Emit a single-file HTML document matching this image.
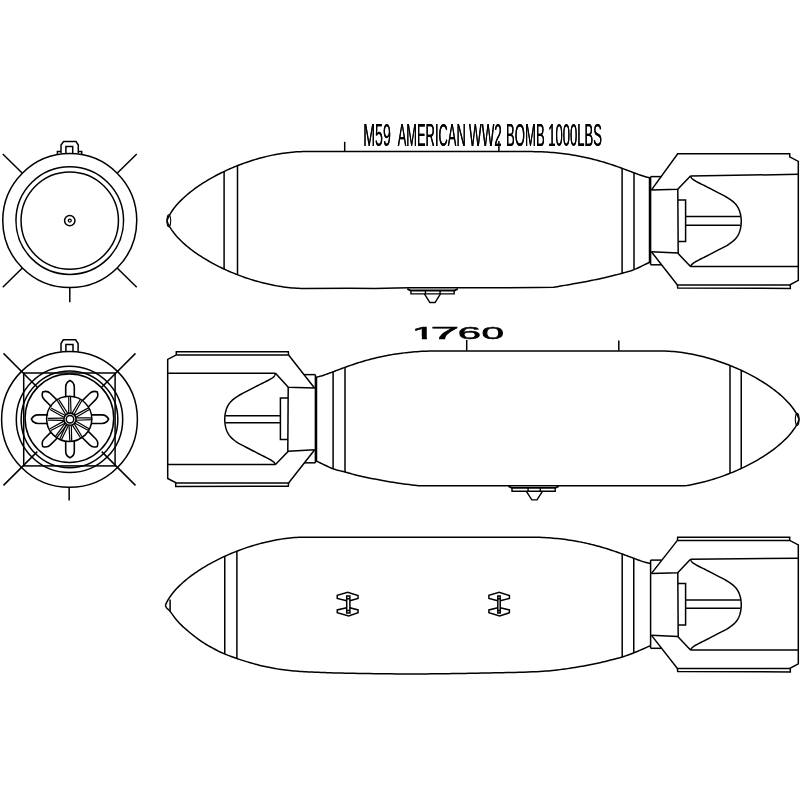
<!DOCTYPE html>
<html><head><meta charset="utf-8"><title>M59 bomb</title>
<style>html,body{margin:0;padding:0;background:#fff}svg{display:block}</style></head>
<body>
<svg width="800" height="800" viewBox="0 0 800 800">
<defs><filter id="hx" x="-5%" y="-30%" width="110%" height="160%" color-interpolation-filters="sRGB"><feOffset in="SourceGraphic" dx="0.35" result="a"/><feOffset in="SourceGraphic" dx="-0.35" result="b"/><feMerge><feMergeNode in="a"/><feMergeNode in="b"/></feMerge></filter><filter id="gx" x="-5%" y="-30%" width="110%" height="160%" color-interpolation-filters="sRGB"><feOffset dx="0"/></filter></defs>
<rect width="800" height="800" fill="#fff"/>
<g fill="none" stroke="#000" stroke-width="1.50" stroke-linejoin="miter" stroke-linecap="butt">
<path d="M166.90,220.80 L167.38,219.55 L167.91,218.31 L168.49,217.06 L169.12,215.81 L169.81,214.56 L170.54,213.30 L171.33,212.05 L172.16,210.80 L173.05,209.55 L173.97,208.30 L174.95,207.05 L175.97,205.81 L177.03,204.57 L178.14,203.33 L179.29,202.09 L180.48,200.86 L181.72,199.64 L182.99,198.42 L184.30,197.20 L185.65,195.99 L187.04,194.79 L188.47,193.59 L189.93,192.40 L191.42,191.22 L192.95,190.05 L194.52,188.88 L196.11,187.73 L197.74,186.58 L199.40,185.45 L201.09,184.32 L202.81,183.21 L204.55,182.11 L206.33,181.02 L208.13,179.94 L209.95,178.88 L211.80,177.82 L213.68,176.79 L215.58,175.76 L217.50,174.75 L219.44,173.76 L221.40,172.78 L223.38,171.82 L225.38,170.87 L227.40,169.94 L229.44,169.03 L231.49,168.14 L233.56,167.26 L235.64,166.40 L237.74,165.57 L239.85,164.75 L241.97,163.95 L244.11,163.17 L246.25,162.42 L248.40,161.68 L250.57,160.97 L252.74,160.28 L254.91,159.61 L257.10,158.96 L259.29,158.34 L261.48,157.75 L263.68,157.17 L265.88,156.63 L268.08,156.11 L270.28,155.61 L272.49,155.14 L274.69,154.70 L276.89,154.29 L279.09,153.90 L281.29,153.54 L283.48,153.21 L285.67,152.91 L287.85,152.64 L290.02,152.40 L292.19,152.19 L294.35,152.01 L296.50,151.87 L298.64,151.75 L300.77,151.67 L302.89,151.62 L305.00,151.60 L530.00,151.60 L532.46,151.61 L534.89,151.64 L537.30,151.69 L539.68,151.77 L542.03,151.86 L544.35,151.97 L546.64,152.10 L548.91,152.25 L551.15,152.41 L553.36,152.59 L555.55,152.79 L557.71,153.00 L559.84,153.23 L561.95,153.48 L564.03,153.74 L566.09,154.01 L568.11,154.30 L570.12,154.60 L572.09,154.91 L574.04,155.23 L575.97,155.57 L577.87,155.91 L579.74,156.27 L581.59,156.64 L583.41,157.01 L585.21,157.40 L586.99,157.79 L588.74,158.19 L590.46,158.60 L592.16,159.02 L593.84,159.44 L595.49,159.87 L597.12,160.30 L598.72,160.74 L600.30,161.18 L601.85,161.63 L603.39,162.08 L604.90,162.53 L606.38,162.99 L607.84,163.44 L609.28,163.90 L610.70,164.36 L612.09,164.82 L613.46,165.28 L614.81,165.74 L616.14,166.20 L617.44,166.65 L618.72,167.11 L619.98,167.56 L621.22,168.01 L622.43,168.45 L623.63,168.89 L624.80,169.33 L625.95,169.76 L627.08,170.19 L628.19,170.60 L629.27,171.02 L630.34,171.42 L631.39,171.82 L632.41,172.21 L633.41,172.59 L634.40,172.96 L635.36,173.32 L636.30,173.67 L637.23,174.01 L638.13,174.34 L639.01,174.66 L639.88,174.97 L640.72,175.26 L641.55,175.54 L642.35,175.81 L643.14,176.06 L643.90,176.30 L644.65,176.52 L645.38,176.72 L646.09,176.91 L646.78,177.09 L647.46,177.24 L648.11,177.38 L648.75,177.50 L650.60,178.10"/>
<path d="M166.90,220.80 L167.38,222.02 L167.91,223.24 L168.49,224.46 L169.12,225.68 L169.81,226.91 L170.54,228.13 L171.33,229.36 L172.16,230.58 L173.05,231.81 L173.97,233.03 L174.95,234.25 L175.97,235.47 L177.03,236.68 L178.14,237.89 L179.29,239.10 L180.48,240.30 L181.72,241.50 L182.99,242.70 L184.30,243.89 L185.65,245.07 L187.04,246.25 L188.47,247.42 L189.93,248.58 L191.42,249.74 L192.95,250.88 L194.52,252.02 L196.11,253.15 L197.74,254.27 L199.40,255.38 L201.09,256.48 L202.81,257.57 L204.55,258.65 L206.33,259.72 L208.13,260.77 L209.95,261.82 L211.80,262.84 L213.68,263.86 L215.58,264.86 L217.50,265.85 L219.44,266.82 L221.40,267.78 L223.38,268.72 L225.38,269.65 L227.40,270.56 L229.44,271.45 L231.49,272.32 L233.56,273.18 L235.64,274.02 L237.74,274.84 L239.85,275.64 L241.97,276.42 L244.11,277.18 L246.25,277.92 L248.40,278.64 L250.57,279.34 L252.74,280.01 L254.91,280.66 L257.10,281.30 L259.29,281.90 L261.48,282.49 L263.68,283.05 L265.88,283.58 L268.08,284.09 L270.28,284.58 L272.49,285.03 L274.69,285.47 L276.89,285.87 L279.09,286.25 L281.29,286.60 L283.48,286.92 L285.67,287.22 L287.85,287.48 L290.02,287.72 L292.19,287.92 L294.35,288.10 L296.50,288.24 L298.64,288.35 L300.77,288.43 L302.89,288.48 L305.00,288.50 L350.00,288.35 L375.00,288.40 L396.00,288.10 L410.00,287.85 L500.00,287.70 L536.00,287.50 L553.75,287.30 L555.21,287.04 L557.15,286.70 L559.46,286.30 L562.03,285.85 L564.74,285.38 L567.46,284.90 L570.09,284.43 L572.50,284.00 L574.75,283.60 L576.96,283.21 L579.15,282.82 L581.33,282.43 L583.49,282.04 L585.65,281.64 L587.82,281.23 L590.00,280.80 L592.21,280.35 L594.44,279.89 L596.68,279.42 L598.92,278.94 L601.14,278.45 L603.31,277.96 L605.44,277.48 L607.50,277.00 L609.50,276.52 L611.46,276.05 L613.38,275.57 L615.26,275.09 L617.10,274.61 L618.88,274.14 L620.62,273.67 L622.30,273.20 L623.89,272.76 L625.37,272.36 L626.78,271.98 L628.15,271.59 L629.53,271.18 L630.93,270.73 L632.41,270.21 L634.00,269.60 L635.80,268.85 L637.82,267.95 L639.96,266.95 L642.11,265.93 L644.17,264.93 L646.03,264.02 L647.59,263.25 L648.75,262.70 L650.60,261.80"/>
<path d="M224.10,171.48 L224.10,269.05"/>
<path d="M237.50,165.66 L237.50,274.74"/>
<path d="M622.10,168.33 L622.10,273.26"/>
<path d="M634.00,172.81 L634.00,269.60"/>
<path d="M168.80,214.80 a1.9,6 0 1,0 0.01,0 Z" stroke-width="1.1"/>
<path d="M649.50,177.70 L649.50,262.40"/>
<path d="M650.60,176.60 L650.60,264.80"/>
<path d="M650.60,176.60 L661.80,176.60"/>
<path d="M650.60,264.80 L661.60,264.80"/>
<path d="M651.50,189.90 L677.70,153.70 L789.70,153.70 L789.70,156.90 L798.30,161.40 L798.30,280.40 L789.70,284.90 L677.40,284.90 L651.50,251.90"/>
<path d="M677.40,284.90 L677.70,288.10 L790.30,288.40 L790.30,284.90"/>
<path d="M690.50,175.95 L798.30,174.35"/>
<path d="M690.50,266.56 L798.30,266.56"/>
<path d="M651.30,189.90 L677.70,189.20 L690.50,175.95"/>
<path d="M651.30,251.70 L677.70,253.10 L690.50,266.56"/>
<path d="M677.80,189.20 L678.20,253.10"/>
<path d="M678.00,200.00 L685.60,200.00 L685.60,241.50 L678.10,241.50"/>
<path d="M685.60,216.40 L740.60,216.40"/>
<path d="M685.60,225.20 L740.60,225.20"/>
<path d="M690.50,175.95 L690.61,176.16 L690.73,176.43 L690.87,176.76 L691.03,177.12 L691.24,177.51 L691.50,177.91 L691.82,178.31 L692.20,178.70 L692.65,179.08 L693.14,179.46 L693.69,179.85 L694.28,180.25 L694.94,180.66 L695.65,181.08 L696.42,181.53 L697.25,182.00 L698.15,182.49 L699.12,182.99 L700.16,183.51 L701.25,184.05 L702.39,184.61 L703.57,185.18 L704.77,185.78 L706.00,186.40 L707.26,187.05 L708.58,187.72 L709.94,188.42 L711.33,189.14 L712.74,189.87 L714.16,190.61 L715.59,191.35 L717.00,192.10 L718.44,192.85 L719.93,193.61 L721.45,194.38 L722.97,195.16 L724.46,195.95 L725.89,196.73 L727.25,197.52 L728.50,198.30 L729.65,199.07 L730.74,199.84 L731.76,200.60 L732.73,201.37 L733.63,202.15 L734.47,202.94 L735.26,203.75 L736.00,204.60 L736.68,205.47 L737.29,206.35 L737.84,207.25 L738.33,208.17 L738.78,209.11 L739.19,210.08 L739.56,211.07 L739.90,212.10 L740.21,213.17 L740.48,214.28 L740.71,215.42 L740.90,216.58 L741.05,217.76 L741.16,218.95 L741.23,220.13 L741.25,221.30 L741.23,222.48 L741.16,223.68 L741.05,224.89 L740.90,226.11 L740.71,227.31 L740.48,228.48 L740.21,229.61 L739.90,230.70 L739.56,231.74 L739.19,232.74 L738.78,233.70 L738.33,234.64 L737.84,235.56 L737.29,236.45 L736.68,237.33 L736.00,238.20 L735.26,239.05 L734.47,239.86 L733.63,240.65 L732.73,241.43 L731.76,242.20 L730.74,242.96 L729.65,243.73 L728.50,244.50 L727.25,245.28 L725.89,246.07 L724.46,246.85 L722.97,247.64 L721.45,248.42 L719.93,249.19 L718.44,249.95 L717.00,250.70 L715.59,251.45 L714.16,252.19 L712.74,252.93 L711.33,253.66 L709.94,254.38 L708.58,255.08 L707.26,255.75 L706.00,256.40 L704.77,257.02 L703.57,257.62 L702.39,258.19 L701.25,258.75 L700.16,259.29 L699.12,259.81 L698.15,260.31 L697.25,260.80 L696.42,261.27 L695.65,261.72 L694.94,262.15 L694.28,262.57 L693.69,262.97 L693.14,263.36 L692.65,263.74 L692.20,264.10 L691.82,264.46 L691.50,264.83 L691.24,265.19 L691.03,265.54 L690.87,265.85 L690.73,266.14 L690.61,266.38 L690.50,266.56"/>
<path d="M344.70,141.80 L344.70,152.00"/>
<path d="M498.90,141.00 L498.90,152.00"/>
<path d="M799.10,419.40 L798.62,418.17 L798.09,416.94 L797.51,415.70 L796.88,414.46 L796.19,413.23 L795.46,411.99 L794.67,410.75 L793.84,409.52 L792.95,408.28 L792.03,407.05 L791.05,405.81 L790.03,404.58 L788.97,403.35 L787.86,402.13 L786.71,400.91 L785.52,399.69 L784.28,398.48 L783.01,397.27 L781.70,396.07 L780.35,394.88 L778.96,393.69 L777.53,392.51 L776.07,391.33 L774.58,390.16 L773.05,389.00 L771.48,387.85 L769.89,386.71 L768.26,385.58 L766.60,384.46 L764.91,383.35 L763.19,382.25 L761.45,381.16 L759.67,380.08 L757.87,379.01 L756.05,377.96 L754.20,376.92 L752.32,375.89 L750.42,374.88 L748.50,373.88 L746.56,372.90 L744.60,371.93 L742.62,370.98 L740.62,370.05 L738.60,369.13 L736.56,368.23 L734.51,367.34 L732.44,366.48 L730.36,365.63 L728.26,364.80 L726.15,364.00 L724.03,363.21 L721.89,362.44 L719.75,361.69 L717.60,360.96 L715.43,360.26 L713.26,359.58 L711.09,358.92 L708.90,358.28 L706.71,357.67 L704.52,357.08 L702.32,356.51 L700.12,355.97 L697.92,355.45 L695.72,354.97 L693.51,354.50 L691.31,354.07 L689.11,353.66 L686.91,353.27 L684.71,352.92 L682.52,352.59 L680.33,352.30 L678.15,352.03 L675.98,351.79 L673.81,351.58 L671.65,351.41 L669.50,351.26 L667.36,351.15 L665.23,351.07 L663.11,351.02 L661.00,351.00 L436.00,351.00 L433.54,351.01 L431.11,351.04 L428.70,351.09 L426.32,351.17 L423.97,351.26 L421.65,351.37 L419.36,351.50 L417.09,351.65 L414.85,351.81 L412.64,351.99 L410.45,352.19 L408.29,352.40 L406.16,352.63 L404.05,352.88 L401.97,353.14 L399.91,353.41 L397.89,353.70 L395.88,354.00 L393.91,354.31 L391.96,354.63 L390.03,354.97 L388.13,355.31 L386.26,355.67 L384.41,356.04 L382.59,356.41 L380.79,356.80 L379.01,357.19 L377.26,357.59 L375.54,358.00 L373.84,358.42 L372.16,358.84 L370.51,359.27 L368.88,359.70 L367.28,360.14 L365.70,360.58 L364.15,361.03 L362.61,361.48 L361.10,361.93 L359.62,362.39 L358.16,362.84 L356.72,363.30 L355.30,363.76 L353.91,364.22 L352.54,364.68 L351.19,365.14 L349.86,365.60 L348.56,366.05 L347.28,366.51 L346.02,366.96 L344.78,367.41 L343.57,367.85 L342.37,368.29 L341.20,368.73 L340.05,369.16 L338.92,369.59 L337.81,370.00 L336.73,370.42 L335.66,370.82 L334.61,371.22 L333.59,371.61 L332.59,371.99 L331.60,372.36 L330.64,372.72 L329.70,373.07 L328.77,373.41 L327.87,373.74 L326.99,374.06 L326.12,374.37 L325.28,374.66 L324.45,374.94 L323.65,375.21 L322.86,375.46 L322.10,375.70 L321.35,375.92 L320.62,376.12 L319.91,376.31 L319.22,376.49 L318.54,376.64 L317.89,376.78 L317.25,376.90 L315.40,377.50"/>
<path d="M799.10,419.40 L798.62,420.63 L798.09,421.86 L797.51,423.10 L796.88,424.34 L796.19,425.57 L795.46,426.81 L794.67,428.05 L793.84,429.28 L792.95,430.52 L792.03,431.75 L791.05,432.99 L790.03,434.22 L788.97,435.45 L787.86,436.67 L786.71,437.89 L785.52,439.11 L784.28,440.32 L783.01,441.53 L781.70,442.73 L780.35,443.92 L778.96,445.11 L777.53,446.29 L776.07,447.47 L774.58,448.64 L773.05,449.80 L771.48,450.95 L769.89,452.09 L768.26,453.22 L766.60,454.34 L764.91,455.45 L763.19,456.55 L761.45,457.64 L759.67,458.72 L757.87,459.79 L756.05,460.84 L754.20,461.88 L752.32,462.91 L750.42,463.92 L748.50,464.92 L746.56,465.90 L744.60,466.87 L742.62,467.82 L740.62,468.75 L738.60,469.67 L736.56,470.57 L734.51,471.46 L732.44,472.32 L730.36,473.17 L728.26,474.00 L726.15,474.80 L724.03,475.59 L721.89,476.36 L719.75,477.11 L717.60,477.84 L715.43,478.54 L713.26,479.22 L711.09,479.88 L708.90,480.52 L706.71,481.13 L704.52,481.72 L702.32,482.29 L700.12,482.83 L697.92,483.35 L695.72,483.83 L693.51,484.30 L691.31,484.73 L689.11,485.14 L686.91,485.53 L684.71,485.80 L682.52,485.80 L680.33,485.80 L678.15,485.80 L675.98,485.80 L673.81,485.80 L671.65,485.80 L669.50,485.80 L667.36,485.80 L665.23,485.80 L663.11,485.80 L661.00,485.80 L420.25,485.80 L420.25,485.80 L418.78,485.64 L416.83,485.44 L414.52,485.20 L411.94,484.92 L409.19,484.62 L406.39,484.30 L403.62,483.96 L401.00,483.60 L398.45,483.22 L395.83,482.80 L393.17,482.36 L390.48,481.89 L387.81,481.42 L385.15,480.94 L382.54,480.46 L380.00,480.00 L377.51,479.55 L375.04,479.10 L372.60,478.65 L370.19,478.19 L367.82,477.74 L365.49,477.27 L363.22,476.79 L361.00,476.30 L358.83,475.78 L356.70,475.24 L354.60,474.69 L352.56,474.12 L350.58,473.56 L348.65,473.02 L346.79,472.49 L345.00,472.00 L343.33,471.57 L341.80,471.21 L340.36,470.88 L338.97,470.55 L337.58,470.21 L336.15,469.81 L334.64,469.34 L333.00,468.75 L331.12,467.99 L329.01,467.07 L326.76,466.04 L324.50,464.97 L322.33,463.93 L320.37,462.98 L318.72,462.18 L317.50,461.60 L315.40,460.60"/>
<path d="M741.25,370.34 L741.25,468.46"/>
<path d="M730.00,365.49 L730.00,473.31"/>
<path d="M345.00,367.33 L345.00,472.00"/>
<path d="M333.10,371.79 L333.10,468.79"/>
<path d="M797.20,413.40 a1.9,6 0 1,0 0.01,0 Z" stroke-width="1.1"/>
<path d="M316.50,377.10 L316.50,461.80"/>
<path d="M315.40,374.63 L315.40,462.83"/>
<path d="M315.40,374.63 L304.20,374.63"/>
<path d="M315.40,462.83 L304.40,462.83"/>
<path d="M314.50,387.93 L288.60,354.93 L176.30,354.93 L167.70,359.43 L167.70,478.43 L176.30,482.93 L288.60,482.93 L314.50,449.93"/>
<path d="M288.60,354.93 L288.30,351.73 L176.30,351.73 L176.30,354.93"/>
<path d="M288.60,482.93 L288.30,486.13 L175.70,486.43 L175.70,482.93"/>
<path d="M275.50,373.30 L167.70,373.30"/>
<path d="M275.50,464.55 L167.70,464.55"/>
<path d="M314.70,387.93 L288.30,387.23 L275.50,373.30"/>
<path d="M314.70,449.73 L288.30,451.13 L275.50,464.55"/>
<path d="M288.20,387.23 L287.80,451.13"/>
<path d="M288.00,398.03 L280.40,398.03 L280.40,439.53 L287.90,439.53"/>
<path d="M280.40,415.63 L225.40,415.63"/>
<path d="M280.40,422.83 L225.40,422.83"/>
<path d="M275.50,373.30 L275.39,373.57 L275.27,373.92 L275.13,374.34 L274.97,374.81 L274.76,375.30 L274.50,375.80 L274.18,376.28 L273.80,376.73 L273.35,377.14 L272.86,377.54 L272.31,377.93 L271.72,378.32 L271.06,378.72 L270.35,379.13 L269.58,379.57 L268.75,380.03 L267.85,380.52 L266.88,381.02 L265.84,381.54 L264.75,382.08 L263.61,382.64 L262.43,383.21 L261.23,383.81 L260.00,384.43 L258.74,385.08 L257.42,385.75 L256.06,386.45 L254.67,387.17 L253.26,387.90 L251.84,388.64 L250.41,389.38 L249.00,390.13 L247.56,390.88 L246.07,391.64 L244.55,392.41 L243.03,393.19 L241.54,393.98 L240.11,394.76 L238.75,395.55 L237.50,396.33 L236.35,397.10 L235.26,397.87 L234.24,398.63 L233.27,399.40 L232.37,400.18 L231.53,400.97 L230.74,401.78 L230.00,402.63 L229.32,403.50 L228.71,404.38 L228.16,405.28 L227.67,406.20 L227.22,407.14 L226.81,408.11 L226.44,409.10 L226.10,410.13 L225.79,411.20 L225.52,412.31 L225.29,413.45 L225.10,414.61 L224.95,415.79 L224.84,416.98 L224.77,418.16 L224.75,419.33 L224.77,420.51 L224.84,421.71 L224.95,422.92 L225.10,424.14 L225.29,425.34 L225.52,426.51 L225.79,427.64 L226.10,428.73 L226.44,429.77 L226.81,430.77 L227.22,431.73 L227.67,432.67 L228.16,433.59 L228.71,434.48 L229.32,435.36 L230.00,436.23 L230.74,437.08 L231.53,437.89 L232.37,438.68 L233.27,439.46 L234.24,440.23 L235.26,440.99 L236.35,441.76 L237.50,442.53 L238.75,443.31 L240.11,444.10 L241.54,444.88 L243.03,445.67 L244.55,446.45 L246.07,447.22 L247.56,447.98 L249.00,448.73 L250.41,449.48 L251.84,450.22 L253.26,450.96 L254.67,451.69 L256.06,452.41 L257.42,453.11 L258.74,453.78 L260.00,454.43 L261.23,455.05 L262.43,455.65 L263.61,456.22 L264.75,456.78 L265.84,457.32 L266.88,457.84 L267.85,458.34 L268.75,458.83 L269.58,459.30 L270.35,459.75 L271.06,460.19 L271.72,460.60 L272.31,461.01 L272.86,461.39 L273.35,461.77 L273.80,462.13 L274.18,462.49 L274.50,462.85 L274.76,463.21 L274.97,463.55 L275.13,463.86 L275.27,464.14 L275.39,464.37 L275.50,464.55"/>
<path d="M466.70,340.00 L466.70,350.80"/>
<path d="M618.80,340.50 L618.80,350.80"/>
<path d="M165.30,605.60 L165.80,604.37 L166.35,603.14 L166.96,601.90 L167.62,600.66 L168.33,599.43 L169.09,598.19 L169.90,596.95 L170.76,595.72 L171.67,594.48 L172.63,593.25 L173.63,592.01 L174.67,590.78 L175.76,589.55 L176.90,588.33 L178.08,587.11 L179.30,585.89 L180.56,584.68 L181.86,583.47 L183.19,582.27 L184.57,581.08 L185.99,579.89 L187.44,578.71 L188.93,577.53 L190.45,576.36 L192.01,575.20 L193.60,574.05 L195.22,572.91 L196.88,571.78 L198.56,570.66 L200.28,569.55 L202.02,568.45 L203.79,567.36 L205.59,566.28 L207.42,565.21 L209.27,564.16 L211.15,563.12 L213.05,562.09 L214.97,561.08 L216.91,560.08 L218.88,559.10 L220.86,558.13 L222.87,557.18 L224.89,556.25 L226.94,555.33 L229.00,554.43 L231.07,553.54 L233.16,552.68 L235.27,551.83 L237.38,551.00 L239.51,550.20 L241.66,549.41 L243.81,548.64 L245.97,547.89 L248.14,547.16 L250.32,546.46 L252.51,545.78 L254.71,545.12 L256.91,544.48 L259.11,543.87 L261.32,543.28 L263.53,542.71 L265.75,542.17 L267.96,541.65 L270.18,541.17 L272.39,540.70 L274.61,540.27 L276.82,539.86 L279.03,539.47 L281.24,539.12 L283.44,538.79 L285.63,538.50 L287.82,538.23 L290.00,537.99 L292.18,537.78 L294.34,537.61 L296.50,537.46 L298.64,537.35 L300.77,537.27 L302.89,537.22 L305.00,537.20 L530.00,537.20 L532.46,537.21 L534.89,537.24 L537.30,537.29 L539.68,537.37 L542.03,537.46 L544.35,537.57 L546.64,537.70 L548.91,537.85 L551.15,538.01 L553.36,538.19 L555.55,538.39 L557.71,538.60 L559.84,538.83 L561.95,539.08 L564.03,539.34 L566.09,539.61 L568.11,539.90 L570.12,540.20 L572.09,540.51 L574.04,540.83 L575.97,541.17 L577.87,541.51 L579.74,541.87 L581.59,542.24 L583.41,542.61 L585.21,543.00 L586.99,543.39 L588.74,543.79 L590.46,544.20 L592.16,544.62 L593.84,545.04 L595.49,545.47 L597.12,545.90 L598.72,546.34 L600.30,546.78 L601.85,547.23 L603.39,547.68 L604.90,548.13 L606.38,548.59 L607.84,549.04 L609.28,549.50 L610.70,549.96 L612.09,550.42 L613.46,550.88 L614.81,551.34 L616.14,551.80 L617.44,552.25 L618.72,552.71 L619.98,553.16 L621.22,553.61 L622.43,554.05 L623.63,554.49 L624.80,554.93 L625.95,555.36 L627.08,555.79 L628.19,556.20 L629.27,556.62 L630.34,557.02 L631.39,557.42 L632.41,557.81 L633.41,558.19 L634.40,558.56 L635.36,558.92 L636.30,559.27 L637.23,559.61 L638.13,559.94 L639.01,560.26 L639.88,560.57 L640.72,560.86 L641.55,561.14 L642.35,561.41 L643.14,561.66 L643.90,561.90 L644.65,562.12 L645.38,562.32 L646.09,562.51 L646.78,562.69 L647.46,562.84 L648.11,562.98 L648.75,563.10 L650.60,563.70"/>
<path d="M165.30,605.60 L165.50,605.93 L165.76,606.39 L166.07,606.93 L166.43,607.51 L166.81,608.09 L167.20,608.60 L167.55,608.96 L167.85,609.19 L168.17,609.41 L168.59,609.74 L169.18,610.31 L170.00,611.25 L171.07,612.63 L172.34,614.36 L173.77,616.34 L175.34,618.43 L177.01,620.53 L178.75,622.50 L180.62,624.40 L182.64,626.33 L184.77,628.26 L186.94,630.16 L189.12,632.00 L191.25,633.75 L193.33,635.42 L195.42,637.03 L197.50,638.58 L199.58,640.08 L201.67,641.52 L203.75,642.90 L205.88,644.24 L208.06,645.53 L210.23,646.77 L212.36,647.93 L214.38,649.01 L216.25,650.00 L217.88,650.85 L219.31,651.57 L220.62,652.20 L221.94,652.80 L223.37,653.42 L225.00,654.10 L226.90,654.86 L228.98,655.66 L231.17,656.48 L233.38,657.29 L235.52,658.06 L237.50,658.75 L239.28,659.36 L240.93,659.90 L242.50,660.40 L244.07,660.88 L245.72,661.37 L247.50,661.90 L249.41,662.47 L251.39,663.06 L253.44,663.65 L255.56,664.25 L257.74,664.84 L260.00,665.40 L262.38,665.96 L264.91,666.51 L267.50,667.06 L270.09,667.58 L272.62,668.07 L275.00,668.50 L277.23,668.88 L279.35,669.21 L281.41,669.50 L283.43,669.76 L285.45,670.01 L287.50,670.25 L289.58,670.48 L291.67,670.69 L293.75,670.89 L295.83,671.07 L297.92,671.24 L300.00,671.40 L302.08,671.55 L304.17,671.67 L306.25,671.79 L308.33,671.90 L310.42,672.00 L312.50,672.10 L314.58,672.20 L316.67,672.29 L318.75,672.37 L320.83,672.45 L322.92,672.52 L325.00,672.60 L327.08,672.67 L329.17,672.75 L331.25,672.82 L333.33,672.88 L335.42,672.94 L337.50,673.00 L339.38,673.05 L341.02,673.09 L342.66,673.12 L344.54,673.15 L346.90,673.20 L350.00,673.25 L353.96,673.32 L358.63,673.41 L363.78,673.50 L369.20,673.59 L374.68,673.68 L380.00,673.75 L385.26,673.81 L390.67,673.87 L396.12,673.92 L401.56,673.96 L406.88,673.99 L412.00,674.00 L416.93,673.99 L421.74,673.96 L426.44,673.91 L431.04,673.86 L435.55,673.80 L440.00,673.75 L444.34,673.70 L448.56,673.65 L452.69,673.59 L456.78,673.53 L460.87,673.47 L465.00,673.40 L469.17,673.33 L473.33,673.24 L477.50,673.16 L481.67,673.07 L485.83,672.99 L490.00,672.90 L494.17,672.82 L498.33,672.75 L502.50,672.67 L506.67,672.60 L510.83,672.51 L515.00,672.40 L519.28,672.28 L523.70,672.14 L528.12,672.00 L532.41,671.84 L536.41,671.68 L540.00,671.50 L543.08,671.31 L545.74,671.12 L548.12,670.92 L550.37,670.70 L552.62,670.46 L555.00,670.20 L557.50,669.92 L560.00,669.62 L562.50,669.30 L565.00,668.97 L567.50,668.62 L570.00,668.25 L572.50,667.86 L575.00,667.46 L577.50,667.04 L580.00,666.61 L582.50,666.16 L585.00,665.70 L587.50,665.23 L590.00,664.76 L592.50,664.28 L595.00,663.77 L597.50,663.25 L600.00,662.70 L602.59,662.10 L605.29,661.44 L607.99,660.76 L610.58,660.09 L612.95,659.48 L615.00,658.95 L616.60,658.55 L617.81,658.25 L618.81,658.00 L619.76,657.75 L620.83,657.43 L622.20,657.00 L623.83,656.46 L625.58,655.88 L627.46,655.23 L629.46,654.51 L631.61,653.70 L633.90,652.80 L636.59,651.69 L639.71,650.36 L642.98,648.94 L646.09,647.58 L648.73,646.42 L650.60,645.60"/>
<path d="M224.75,556.32 L224.75,654.00"/>
<path d="M236.90,551.19 L236.90,658.54"/>
<path d="M622.20,553.97 L622.20,657.00"/>
<path d="M633.75,558.32 L633.75,652.86"/>
<path d="M170.10,599.40 L170.10,611.40"/>
<path d="M650.60,560.10 L650.60,648.30"/>
<path d="M650.60,560.10 L661.80,560.10"/>
<path d="M650.60,648.30 L661.60,648.30"/>
<path d="M651.50,573.40 L677.40,540.40 L789.70,540.40 L798.30,544.90 L798.30,663.90 L789.70,668.40 L677.40,668.40 L651.50,635.40"/>
<path d="M677.40,540.40 L677.70,537.20 L789.70,537.20 L789.70,540.40"/>
<path d="M677.40,668.40 L677.70,671.60 L790.30,671.90 L790.30,668.40"/>
<path d="M690.50,559.20 L798.30,558.30"/>
<path d="M690.50,650.10 L798.30,650.10"/>
<path d="M651.30,573.40 L677.70,572.70 L690.50,559.20"/>
<path d="M651.30,635.20 L677.70,636.60 L690.50,650.10"/>
<path d="M677.80,572.70 L678.20,636.60"/>
<path d="M678.00,583.50 L685.60,583.50 L685.60,625.00 L678.10,625.00"/>
<path d="M685.60,600.05 L740.60,600.05"/>
<path d="M685.60,608.20 L740.60,608.20"/>
<path d="M690.50,559.20 L690.61,559.43 L690.73,559.73 L690.87,560.09 L691.03,560.49 L691.24,560.92 L691.50,561.36 L691.82,561.79 L692.20,562.20 L692.65,562.59 L693.14,562.98 L693.69,563.37 L694.28,563.76 L694.94,564.17 L695.65,564.59 L696.42,565.03 L697.25,565.50 L698.15,565.99 L699.12,566.49 L700.16,567.01 L701.25,567.55 L702.39,568.11 L703.57,568.68 L704.77,569.28 L706.00,569.90 L707.26,570.55 L708.58,571.22 L709.94,571.92 L711.33,572.64 L712.74,573.37 L714.16,574.11 L715.59,574.85 L717.00,575.60 L718.44,576.35 L719.93,577.11 L721.45,577.88 L722.97,578.66 L724.46,579.45 L725.89,580.23 L727.25,581.02 L728.50,581.80 L729.65,582.57 L730.74,583.34 L731.76,584.10 L732.73,584.87 L733.63,585.65 L734.47,586.44 L735.26,587.25 L736.00,588.10 L736.68,588.97 L737.29,589.85 L737.84,590.75 L738.33,591.67 L738.78,592.61 L739.19,593.58 L739.56,594.57 L739.90,595.60 L740.21,596.67 L740.48,597.78 L740.71,598.92 L740.90,600.08 L741.05,601.26 L741.16,602.45 L741.23,603.63 L741.25,604.80 L741.23,605.98 L741.16,607.18 L741.05,608.39 L740.90,609.61 L740.71,610.81 L740.48,611.98 L740.21,613.11 L739.90,614.20 L739.56,615.24 L739.19,616.24 L738.78,617.20 L738.33,618.14 L737.84,619.06 L737.29,619.95 L736.68,620.83 L736.00,621.70 L735.26,622.55 L734.47,623.36 L733.63,624.15 L732.73,624.93 L731.76,625.70 L730.74,626.46 L729.65,627.23 L728.50,628.00 L727.25,628.78 L725.89,629.57 L724.46,630.35 L722.97,631.14 L721.45,631.92 L719.93,632.69 L718.44,633.45 L717.00,634.20 L715.59,634.95 L714.16,635.69 L712.74,636.43 L711.33,637.16 L709.94,637.88 L708.58,638.58 L707.26,639.25 L706.00,639.90 L704.77,640.52 L703.57,641.12 L702.39,641.69 L701.25,642.25 L700.16,642.79 L699.12,643.31 L698.15,643.81 L697.25,644.30 L696.42,644.77 L695.65,645.22 L694.94,645.65 L694.28,646.07 L693.69,646.47 L693.14,646.86 L692.65,647.23 L692.20,647.60 L691.82,647.97 L691.50,648.34 L691.24,648.71 L691.03,649.06 L690.87,649.38 L690.73,649.67 L690.61,649.91 L690.50,650.10"/>
<path d="M407.35,288.90 L410.65,290.50 L454.45,290.50 L457.75,288.90" stroke-width="1.8"/>
<path d="M410.95,290.50 V293.90 H454.15 V290.50" stroke-width="1.4"/>
<path d="M425.45,290.50 V293.90" stroke-width="1.4"/>
<path d="M440.05,290.50 V293.90" stroke-width="1.4"/>
<path d="M424.45,293.90 L429.85,302.50 L435.05,302.50 L440.45,293.90" stroke-width="1.4"/>
<path d="M508.40,486.30 L511.70,487.90 L555.50,487.90 L558.80,486.30" stroke-width="1.8"/>
<path d="M512.00,487.90 V491.30 H555.20 V487.90" stroke-width="1.4"/>
<path d="M528.10,487.90 V491.30" stroke-width="1.4"/>
<path d="M540.30,487.90 V491.30" stroke-width="1.4"/>
<path d="M526.40,491.30 L531.80,499.90 L537.00,499.90 L542.40,491.30" stroke-width="1.4"/>
<path d="M346.70,600.80 L337.25,598.40 L337.25,595.30 L347.65,592.30 L358.05,595.50 L358.05,598.40 L349.90,600.80" stroke-width="1.5"/>
<path d="M346.70,607.80 L337.25,609.90 L337.25,612.80 L348.70,616.00 L358.05,612.80 L358.05,609.90 L349.90,607.80" stroke-width="1.5"/>
<path d="M346.70,596.00 H349.90 V613.10 H346.70 Z" stroke-width="1.5"/>
<path d="M346.70,598.70 H349.90 M346.70,610.40 H349.90" stroke-width="1.5"/>
<path d="M497.80,600.80 L488.90,598.40 L488.90,595.30 L499.15,592.30 L509.40,595.50 L509.40,598.40 L500.20,600.80" stroke-width="1.5"/>
<path d="M497.80,607.80 L488.90,609.90 L488.90,612.80 L499.60,616.00 L509.40,612.80 L509.40,609.90 L500.20,607.80" stroke-width="1.5"/>
<path d="M497.80,596.00 H500.20 V613.10 H497.80 Z" stroke-width="1.5"/>
<path d="M497.80,598.70 H500.20 M497.80,610.40 H500.20" stroke-width="1.5"/>
<circle cx="69.75" cy="220.60" r="67.00"/>
<circle cx="69.75" cy="220.60" r="53.80"/>
<circle cx="69.75" cy="220.60" r="48.70"/>
<circle cx="69.75" cy="220.60" r="5.2" stroke-width="1.5"/>
<circle cx="69.75" cy="220.60" r="1.5" stroke-width="1.3"/>
<path d="M22.37,173.22 L2.75,154.00"/>
<path d="M22.37,267.98 L2.75,287.20"/>
<path d="M117.13,173.22 L136.75,154.00"/>
<path d="M117.13,267.98 L136.75,287.20"/>
<path d="M69.80,287.60 V302.30"/>
<path stroke-width="1.5" d="M61,152.9 V145 L63.6,141.6 H76 L78.3,145 V152.9 M65.9,152.9 V146.4 H72.7 V152.9 M57.4,154.6 V151.6 H61 M78.3,151.6 H81.7 V154.6"/>
<circle cx="69.50" cy="419.40" r="67.9"/>
<circle cx="69.50" cy="419.40" r="53.20"/>
<circle cx="69.50" cy="419.40" r="48.35"/>
<circle cx="69.4" cy="418.2" r="44.3"/>
<rect x="23.7" y="373" width="91.4" height="92.9"/>
<path d="M37.30,387.20 L3.50,353.40"/>
<path d="M37.30,451.60 L3.50,485.40"/>
<path d="M101.70,387.20 L135.50,353.40"/>
<path d="M101.70,451.60 L135.50,485.40"/>
<path d="M69.15,487.30 V500.50"/>
<path stroke-width="1.5" d="M61,351.6 V343.5 L63.3,339.8 H75.6 L78.1,343.5 V351.6 M65.9,351.6 V344.6 H73 V351.6"/>
<circle cx="69.20" cy="418.90" r="22.60"/>
<circle cx="70.00" cy="419.20" r="6.1" stroke-width="1.6"/>
<circle cx="70.00" cy="419.20" r="3.75" stroke-width="1.5"/>
<path d="M91.89,414.90 L102.00,414.90 C105.00,414.90 107.60,417.00 108.60,419.20 C107.60,421.40 105.00,423.50 102.00,423.50 L91.89,423.50" stroke-width="1.6"/>
<path d="M88.52,431.64 L95.67,438.79 C97.79,440.91 98.14,444.23 97.29,446.49 C95.03,447.34 91.71,446.99 89.59,444.87 L82.44,437.72" stroke-width="1.6"/>
<path d="M74.30,441.09 L74.30,451.20 C74.30,454.20 72.20,456.80 70.00,457.80 C67.80,456.80 65.70,454.20 65.70,451.20 L65.70,441.09" stroke-width="1.6"/>
<path d="M57.56,437.72 L50.41,444.87 C48.29,446.99 44.97,447.34 42.71,446.49 C41.86,444.23 42.21,440.91 44.33,438.79 L51.48,431.64" stroke-width="1.6"/>
<path d="M48.11,423.50 L38.00,423.50 C35.00,423.50 32.40,421.40 31.40,419.20 C32.40,417.00 35.00,414.90 38.00,414.90 L48.11,414.90" stroke-width="1.6"/>
<path d="M51.48,406.76 L44.33,399.61 C42.21,397.49 41.86,394.17 42.71,391.91 C44.97,391.06 48.29,391.41 50.41,393.53 L57.56,400.68" stroke-width="1.6"/>
<path d="M65.70,397.31 L65.70,387.20 C65.70,384.20 67.80,381.60 70.00,380.60 C72.20,381.60 74.30,384.20 74.30,387.20 L74.30,397.31" stroke-width="1.6"/>
<path d="M82.44,400.68 L89.59,393.53 C91.71,391.41 95.03,391.06 97.29,391.91 C98.14,394.17 97.79,397.49 95.67,399.61 L88.52,406.76" stroke-width="1.6"/>
<path d="M68.74,412.92 L68.71,397.02" stroke-width="1.2"/>
<path d="M71.04,412.88 L70.51,396.99" stroke-width="1.2"/>
<path d="M72.15,413.17 L80.32,399.52" stroke-width="1.2"/>
<path d="M74.15,414.32 L81.88,400.42" stroke-width="1.2"/>
<path d="M74.95,415.14 L88.98,407.65" stroke-width="1.2"/>
<path d="M76.07,417.15 L89.85,409.22" stroke-width="1.2"/>
<path d="M76.28,417.94 L92.18,417.91" stroke-width="1.2"/>
<path d="M76.32,420.24 L92.21,419.71" stroke-width="1.2"/>
<path d="M76.07,421.25 L89.85,429.18" stroke-width="1.2"/>
<path d="M74.95,423.26 L88.98,430.75" stroke-width="1.2"/>
<path d="M74.31,423.93 L82.53,437.55" stroke-width="1.2"/>
<path d="M72.36,425.15 L81.00,438.50" stroke-width="1.2"/>
<path d="M71.37,425.46 L71.67,441.36" stroke-width="1.2"/>
<path d="M69.07,425.54 L69.88,441.42" stroke-width="1.2"/>
<path d="M68.38,425.40 L61.43,439.70" stroke-width="1.2"/>
<path d="M66.30,424.42 L59.80,438.94" stroke-width="1.2"/>
<path d="M67.03,424.87 L57.04,437.25" stroke-width="1.2"/>
<path d="M65.22,423.46 L55.62,436.14" stroke-width="1.2"/>
<path d="M64.98,423.17 L50.82,430.42" stroke-width="1.2"/>
<path d="M63.90,421.14 L49.98,428.83" stroke-width="1.2"/>
<path d="M63.70,420.35 L47.80,420.10" stroke-width="1.2"/>
<path d="M63.70,418.05 L47.80,418.30" stroke-width="1.2"/>
<path d="M63.90,417.26 L49.98,409.57" stroke-width="1.2"/>
<path d="M64.98,415.23 L50.82,407.98" stroke-width="1.2"/>
<path d="M65.69,414.47 L57.47,400.85" stroke-width="1.2"/>
<path d="M67.64,413.25 L59.00,399.90" stroke-width="1.2"/>
</g>
<g font-family="Liberation Sans, sans-serif" fill="#000">
<g filter="url(#hx)">
<text x="363.20" y="146.35" font-size="30.6" font-weight="normal" textLength="27.60" lengthAdjust="spacingAndGlyphs">M59</text>
<text x="397.70" y="146.35" font-size="30.6" font-weight="normal" textLength="68.00" lengthAdjust="spacingAndGlyphs">AMERICAN</text>
<text x="469.00" y="146.35" font-size="30.6" font-weight="normal" textLength="32.70" lengthAdjust="spacingAndGlyphs">WW2</text>
<text x="506.10" y="146.35" font-size="30.6" font-weight="normal" textLength="38.60" lengthAdjust="spacingAndGlyphs">BOMB</text>
<text x="548.30" y="146.35" font-size="30.6" font-weight="normal" textLength="53.70" lengthAdjust="spacingAndGlyphs">1000LBS</text>
</g><g filter="url(#gx)">
<text y="338.50" font-size="16.9" stroke="#000" stroke-width="0.50"><tspan x="411.87" textLength="23.57" lengthAdjust="spacingAndGlyphs">1</tspan><tspan x="430.42" textLength="28.72" lengthAdjust="spacingAndGlyphs">7</tspan><tspan x="457.89" textLength="23.33" lengthAdjust="spacingAndGlyphs">6</tspan><tspan x="481.52" textLength="22.57" lengthAdjust="spacingAndGlyphs">0</tspan></text>
</g>
<rect x="413.90" y="336.60" width="7.98" height="3.5" fill="#fff"/>
<rect x="426.92" y="336.60" width="7.65" height="3.5" fill="#fff"/>
</g>
</svg>
</body></html>
